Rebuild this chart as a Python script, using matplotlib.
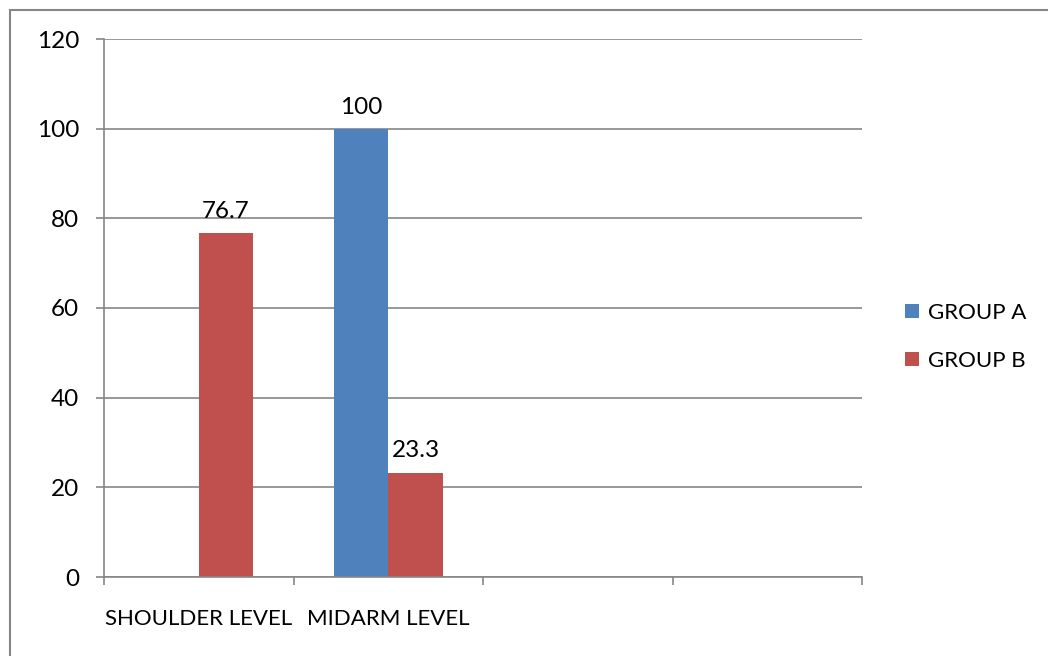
import numpy as np
import matplotlib
matplotlib.use("Agg")
import matplotlib.pyplot as plt
from matplotlib.patches import Rectangle, Patch

categories = ["SHOULDER LEVEL", "MIDARM LEVEL", "", ""]
group_a = [np.nan, 100, np.nan, np.nan]
group_b = [76.7, 23.3, np.nan, np.nan]
series_names = ["GROUP A", "GROUP B"]
y_ticks = [0, 20, 40, 60, 80, 100, 120]

BLUE = "#4F81BD"
RED = "#C0504D"
GRAY = "#868686"
FS_TEXT = 16
FS_NUM = 17.5

plt.rcParams["font.family"] = ["Lato", "DejaVu Sans"]

W, H = 1048, 656
fig = plt.figure(figsize=(W / 100, H / 100), dpi=100)
ax = fig.add_axes([104 / W, 1 - 577 / H, (862 - 104) / W, (577 - 39) / H])

x = np.arange(len(categories))
bw = 0.288
ax.bar(x - bw / 2, group_a, bw, color=BLUE, zorder=2, label=series_names[0])
ax.bar(x + bw / 2, group_b, bw, color=RED, zorder=2, label=series_names[1])

for xs, vals in ((x - bw / 2, group_a), (x + bw / 2, group_b)):
    for xi, v in zip(xs, vals):
        if not np.isnan(v):
            ax.annotate(f"{v:g}", (xi, v), xytext=(0, 8), textcoords="offset points",
                        ha="center", va="bottom", fontsize=FS_NUM, color="black")

ax.set_xlim(-0.5, len(categories) - 0.5)
ax.set_ylim(0, 120)
ax.set_yticks(y_ticks)
ax.yaxis.grid(True, color=GRAY, linewidth=1.2, zorder=0)
ax.set_axisbelow(True)

ax.set_xticks(x)
ax.set_xticklabels(categories, fontsize=FS_TEXT)
ax.set_xticks(np.arange(len(categories) + 1) - 0.5, minor=True)
ax.tick_params(axis="x", which="major", length=0, pad=23)
ax.tick_params(axis="x", which="minor", length=6, width=1.2, color=GRAY, direction="out")
ax.tick_params(axis="y", length=6, width=1.2, color=GRAY, pad=12, labelsize=FS_NUM)

for s in ("top", "right"):
    ax.spines[s].set_visible(False)
for s in ("left", "bottom"):
    ax.spines[s].set_color(GRAY)
    ax.spines[s].set_linewidth(1.2)

handles = [Patch(facecolor=BLUE, edgecolor="none"), Patch(facecolor=RED, edgecolor="none")]
fig.legend(handles, series_names, loc="center left",
           bbox_to_anchor=(905 / W, 1 - 337 / H), frameon=False, fontsize=FS_TEXT,
           handlelength=0.62, handleheight=0.62, handletextpad=0.4, labelspacing=1.25,
           borderaxespad=0, borderpad=0)

fig.patches.append(Rectangle((9.5 / W, -0.1), 2, 1 - 9.5 / H + 0.1, transform=fig.transFigure,
                             fill=False, edgecolor=GRAY, linewidth=1.5))

fig.savefig("out.png", dpi=100)
